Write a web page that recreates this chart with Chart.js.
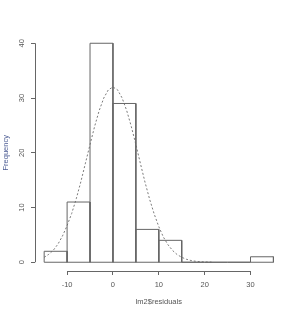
<!DOCTYPE html>
<html>
<head>
<meta charset="utf-8">
<script src="https://cdn.jsdelivr.net/npm/chart.js@4/dist/chart.umd.min.js"></script>
<style>
    body { margin: 0; background: #ffffff; }
    canvas { display: block; }
</style>
</head>
<body>
<canvas id="hist" width="300" height="315"></canvas>
<script>
var binStarts = [-15, -10, -5, 0, 5, 10, 15, 20, 25, 30];
var binWidth = 5;
var counts = [2, 11, 40, 29, 6, 4, 0, 0, 0, 1];

var curveX = [-15, -14, -13, -12, -11, -10, -9, -8, -7, -6, -5, -4, -3, -2, -1, 0,
    1, 2, 3, 4, 5, 6, 7, 8, 9, 10, 11, 12, 13, 14, 15, 16, 17, 18, 19, 20, 21, 21.5];
var curveY = [0.9, 1.45, 2.2, 3.3, 4.8, 6.7, 8.9, 11.6, 14.7, 18.1, 21.5, 24.8, 27.7, 30.0, 31.5, 32.0,
    31.5, 30.0, 27.7, 24.8, 21.5, 18.0, 14.6, 11.5, 8.8, 6.5, 4.6, 3.2, 2.15, 1.4, 0.9, 0.55, 0.32, 0.18, 0.1, 0.05, 0.03, 0.02];

var xTicks = [-10, 0, 10, 20, 30];
var yTicks = [0, 10, 20, 30, 40];

var xLabel = "lm2$residuals";
var yLabel = "Frequency";

var Script = function () {

    var lineColor = "#666666";
    var textColor = "#555555";
    var font = { family: "'Liberation Sans', Arial, sans-serif", size: 7.5 };

    // each bin is drawn as a closed rectangle outline, like R's hist()
    var datasets = [];
    for (var i = 0; i < binStarts.length; i++) {
        var lo = binStarts[i];
        var hi = lo + binWidth;
        var h = counts[i];
        datasets.push({
            data: [
                { x: lo, y: 0 },
                { x: lo, y: h },
                { x: hi, y: h },
                { x: hi, y: 0 },
                { x: lo, y: 0 }
            ],
            showLine: true,
            borderColor: lineColor,
            borderWidth: 1,
            pointRadius: 0,
            fill: false
        });
    }

    var curvePoints = [];
    for (var j = 0; j < curveX.length; j++) {
        curvePoints.push({ x: curveX[j], y: curveY[j] });
    }

    datasets.push({
        data: curvePoints,
        showLine: true,
        borderColor: "#7a7a7a",
        borderWidth: 1,
        borderDash: [2, 2],
        pointRadius: 0,
        tension: 0,
        fill: false
    });

    var axisLines = {
        id: "axisLines",
        afterDraw: function (chart) {
            var ctx = chart.ctx;
            var xs = chart.scales.x;
            var ys = chart.scales.y;
            ctx.save();
            ctx.strokeStyle = lineColor;
            ctx.lineWidth = 1;
            ctx.beginPath();
            var yb = Math.round(xs.top) + 0.5;
            ctx.moveTo(xs.getPixelForValue(xTicks[0]), yb);
            ctx.lineTo(xs.getPixelForValue(xTicks[xTicks.length - 1]), yb);
            var xl = Math.round(ys.right) + 0.5;
            ctx.moveTo(xl, ys.getPixelForValue(yTicks[0]));
            ctx.lineTo(xl, ys.getPixelForValue(yTicks[yTicks.length - 1]));
            ctx.stroke();
            ctx.restore();
        }
    };

    var ctx = document.getElementById("hist").getContext("2d");

    new Chart(ctx, {
        type: "scatter",
        data: { datasets: datasets },
        options: {
            responsive: false,
            animation: false,
            layout: { padding: { top: 34.5, right: 17.4, bottom: 0, left: 0 } },
            plugins: {
                legend: { display: false },
                tooltip: { enabled: false }
            },
            scales: {
                x: {
                    type: "linear",
                    min: -17,
                    max: 37,
                    afterBuildTicks: function (scale) {
                        scale.ticks = xTicks.map(function (v) { return { value: v }; });
                    },
                    afterFit: function (scale) { scale.height = 44; },
                    grid: { drawOnChartArea: false, tickLength: 4, color: lineColor },
                    border: { display: false },
                    ticks: { font: font, color: textColor, padding: 5, maxRotation: 0 },
                    title: {
                        display: true,
                        text: xLabel,
                        font: font,
                        color: textColor,
                        padding: { top: 0, bottom: 8.5 }
                    }
                },
                y: {
                    type: "linear",
                    min: -1.6,
                    max: 41.6,
                    afterBuildTicks: function (scale) {
                        scale.ticks = yTicks.map(function (v) { return { value: v }; });
                    },
                    afterFit: function (scale) { scale.width = 35; },
                    grid: { drawOnChartArea: false, tickLength: 4, color: lineColor },
                    border: { display: false },
                    ticks: {
                        font: font,
                        color: textColor,
                        padding: 5,
                        minRotation: 90,
                        maxRotation: 90,
                        crossAlign: "center"
                    },
                    title: {
                        display: true,
                        text: yLabel,
                        font: font,
                        color: "#4a5a92",
                        padding: { top: 1.5, bottom: 0 }
                    }
                }
            }
        },
        plugins: [axisLines]
    });

}();
</script>
</body>
</html>
